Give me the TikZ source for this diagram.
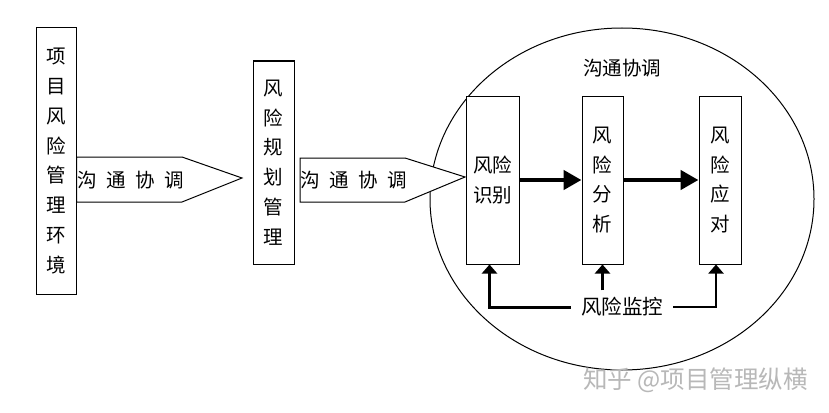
\documentclass[tikz,border=0pt]{standalone}
\usepackage{fontspec}
\newfontfamily\cjk{Noto Sans CJK SC}
\usetikzlibrary{arrows.meta,shapes.geometric}
\tikzset{
  vbox/.style={draw=black, line width=1pt, fill=white, inner sep=0pt, align=center,
    font=\cjk\fontsize{19.5}{29.8}\selectfont},
  pent/.style={draw=black, line width=1pt, fill=white},
  ptext/.style={font=\cjk\fontsize{19.5}{22}\selectfont, inner sep=0pt},
  bigarrow/.style={line width=4.5pt, -{Triangle[length=18pt,width=19pt]}},
  fb/.style={line width=3pt, -{Triangle[length=9pt,width=15pt]}},
}
\begin{document}
\begin{tikzpicture}[x=1pt,y=-1pt]
\useasboundingbox[fill=white] (0,0) rectangle (829,412);
% outer ellipse
\node[draw=black, line width=1pt, ellipse, minimum width=384pt, minimum height=342pt, inner sep=0pt] (circ) at (622,199) {};
\node[font=\cjk\fontsize{19.5}{22}\selectfont] (title) at (622,68) {沟通协调};
% left boxes
\node[vbox, minimum width=40pt, minimum height=266pt] (env) at (56,161)
  {项\\目\\风\\险\\管\\理\\环\\境};
\node[vbox, minimum width=41pt, minimum height=203pt] (plan) at (273.5,162.5)
  {风\\险\\规\\划\\管\\理};
% pentagon arrows
\draw[pent] (env.east |- 0,157) coordinate (a1) -- (182,157) -- (242,178) coordinate (a1tip) -- (182,202) -- (env.east |- 0,202) -- cycle;
\node[ptext] (t1) at (131,180) {沟\hspace{9.5pt}通\hspace{9.5pt}协\hspace{9.5pt}调};
\draw[pent] (300,158) coordinate (a2) -- (405,158) -- (465,177) coordinate (a2tip) -- (405,202) -- (300,202) -- cycle;
\node[ptext] (t2) at (354,180) {沟\hspace{9.5pt}通\hspace{9.5pt}协\hspace{9.5pt}调};
% inner boxes
\node[vbox, minimum width=53pt, minimum height=168pt] (ident) at (492.5,180) {风险\\识别};
\node[vbox, minimum width=41pt, minimum height=168pt] (anal) at (602.5,180) {风\\险\\分\\析};
\node[vbox, minimum width=42pt, minimum height=168pt] (resp) at (720,180) {风\\险\\应\\对};
% flow arrows
\draw[bigarrow] (ident.east) -- (anal.west);
\draw[bigarrow] (anal.east) -- (resp.west);
% monitoring
\node[font=\cjk\fontsize{20.5}{22}\selectfont, inner xsep=10pt, inner ysep=7pt] (mon) at (622,307) {风险监控};
\draw[fb] (mon.west) -| ([xshift=-3pt]ident.south);
\draw[fb] (mon.north -| anal.south) -- (anal.south);
\draw[fb, line width=2pt] (mon.east) -| ([xshift=-4pt]resp.south);
% watermark
\node[font=\cjk\fontsize{24.5}{26}\selectfont, text=black!28, anchor=west, inner sep=0pt] (wm) at (583,380) {知乎\ @项目管理纵横};
\end{tikzpicture}
\end{document}
